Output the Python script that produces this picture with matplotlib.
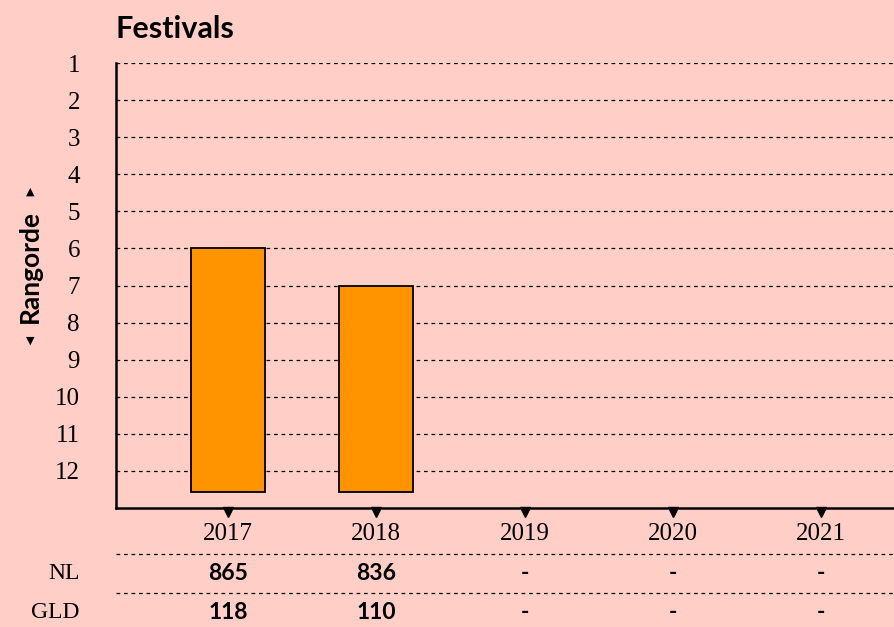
import matplotlib
matplotlib.use('Agg')
import matplotlib.pyplot as plt
from matplotlib import transforms

years = ['2017', '2018', '2019', '2020', '2021']
ranks = [6, 7, None, None, None]
nl_counts = ['865', '836', '-', '-', '-']
gld_counts = ['118', '110', '-', '-', '-']
row_labels = ['NL', 'GLD']
rank_ticks = list(range(1, 13))

bg = '#ffcfc7'
bar_color = '#ff9400'
serif = ['Liberation Serif', 'DejaVu Serif']
sans = ['Lato', 'DejaVu Sans']

fig = plt.figure(figsize=(8.95, 6.27), dpi=100, facecolor=bg)
ax = fig.add_axes([116 / 895, 1 - 508 / 627, 1 - 116 / 895, (508 - 63) / 627])
ax.set_facecolor(bg)

x = list(range(len(years)))
bottom = 12.58
for xi, r in zip(x, ranks):
    if r is None:
        continue
    ax.bar(xi, bottom - r, bottom=r, width=0.5, color=bar_color,
           edgecolor='black', linewidth=1.3, zorder=3)

ax.set_xlim(-0.757, 4.5)
ax.set_ylim(13, 1)
ax.set_yticks(rank_ticks)
ax.set_yticklabels([str(t) for t in rank_ticks], family=serif, fontsize=18)
ax.tick_params(axis='y', length=0, pad=26)
ax.set_xticks(x)
ax.set_xticklabels(years, family=serif, fontsize=18)
ax.tick_params(axis='x', length=0, pad=11)
for t in rank_ticks:
    ax.axhline(t, color='black', linestyle=(0, (3, 3)), linewidth=0.9, zorder=1)

for side in ['top', 'right']:
    ax.spines[side].set_visible(False)
ax.spines['left'].set_linewidth(1.8)
ax.spines['bottom'].set_linewidth(1.8)
ax.spines['left'].set_bounds(1, 13)

# small triangle markers hanging under the x axis
shift = transforms.ScaledTranslation(0, -4 / 100, fig.dpi_scale_trans)
ax.plot(x, [13.0] * len(x), linestyle='none', marker='v', color='black',
        markersize=7, clip_on=False, zorder=4, transform=ax.transData + shift)

# table rows under the chart
trans = transforms.blended_transform_factory(ax.transData, ax.transAxes)
lab_trans = transforms.blended_transform_factory(fig.transFigure, ax.transAxes)
for yl in [-0.1034, -0.191]:
    ax.plot([0, 1], [yl, yl], transform=ax.transAxes, color='black',
            linestyle=(0, (3, 3)), linewidth=0.9, clip_on=False)
for row_y, label, vals in [(-0.148, row_labels[0], nl_counts),
                           (-0.234, row_labels[1], gld_counts)]:
    fig.text(80 / 895, row_y, label, family=serif, fontsize=17, ha='right',
             va='center', transform=lab_trans)
    for xi, v in zip(x, vals):
        ax.text(xi, row_y, v, transform=trans, ha='center', va='center',
                family=sans, fontweight='bold', fontsize=16.5)

fig.text(116 / 895, 1 - 29 / 627, 'Festivals', family=sans, fontweight='bold',
         fontsize=22, ha='left', va='center')
fig.text(30 / 895, 1 - 266 / 627, 'Rangorde', family=sans,
         fontweight='bold', fontsize=19, rotation=90, ha='center', va='center')
fig.text(30 / 895, 1 - 192 / 627, '\u25b2', family=['DejaVu Sans'],
         fontsize=8, ha='center', va='center')
fig.text(30 / 895, 1 - 341 / 627, '\u25bc', family=['DejaVu Sans'],
         fontsize=8, ha='center', va='center')

fig.savefig('out.png', dpi=100, facecolor=bg)
